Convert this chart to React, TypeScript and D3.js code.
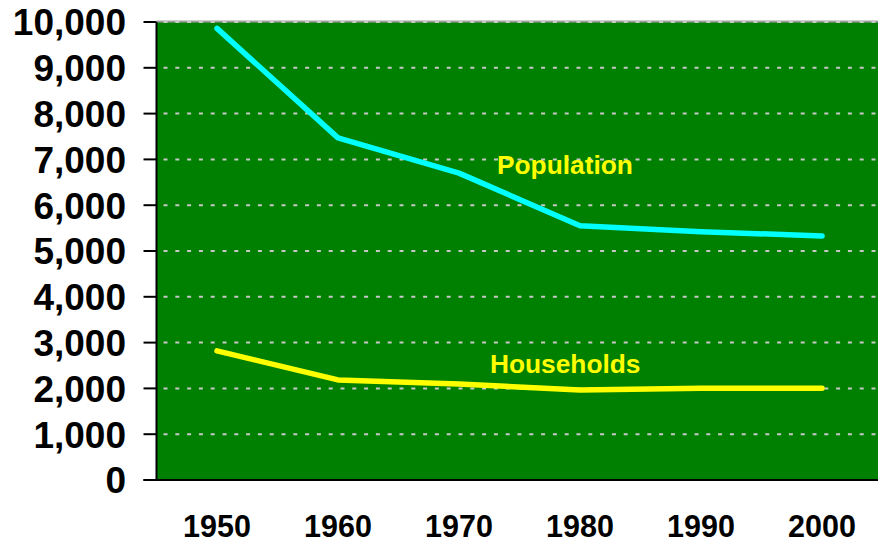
import React from "react";
import * as d3 from "d3";

const years = ["1950", "1960", "1970", "1980", "1990", "2000"];
const population = [9860, 7470, 6700, 5550, 5420, 5330];
const households = [2820, 2185, 2095, 1965, 2005, 2005];
const yTicks = [0, 1000, 2000, 3000, 4000, 5000, 6000, 7000, 8000, 9000, 10000];

const W = 878;
const H = 544;
const left = 156.5;
const top = 22;
const bottom = 480;
const band = 121;

export default function App() {
  const x = d3.scaleBand<string>().domain(years).range([left, left + band * years.length]);
  const y = d3.scaleLinear().domain([0, 10000]).range([bottom, top]);
  const cx = (d: string) => (x(d) as number) + x.bandwidth() / 2;
  const line = d3
    .line<number>()
    .x((_, i) => cx(years[i]))
    .y((v) => y(v));
  const fmt = d3.format(",");
  const font = "'Liberation Sans', Arial, sans-serif";
  return (
    <svg width={W} height={H} style={{ position: "absolute", left: 0, top: 0 }}>
      <rect x={left} y={top} width={W - left} height={bottom - top} fill="#008000" />
      <line x1={left} x2={W} y1={top - 0.5} y2={top - 0.5} stroke="#a0a0a0" strokeWidth={2} />
      {yTicks
        .filter((t) => t > 0)
        .map((t) => (
          <line
            key={t}
            x1={left + 7}
            x2={W}
            y1={y(t)}
            y2={y(t)}
            stroke="#c8c8c8"
            strokeWidth={2}
            strokeDasharray="4 7.8"
          />
        ))}
      <path d={line(population) || ""} fill="none" stroke="#00ffff" strokeWidth={5.5} strokeLinejoin="round" strokeLinecap="round" />
      <path d={line(households) || ""} fill="none" stroke="#ffff00" strokeWidth={5.5} strokeLinejoin="round" strokeLinecap="round" />
      <line x1={left} x2={left} y1={top} y2={bottom + 1} stroke="#000" strokeWidth={2} />
      <line x1={left - 13} x2={W} y1={bottom} y2={bottom} stroke="#000" strokeWidth={2} />
      {yTicks.map((t) => (
        <g key={t}>
          <line x1={left - 13} x2={left} y1={y(t)} y2={y(t)} stroke="#000" strokeWidth={2} />
          <text
            x={126}
            y={y(t)}
            dy="0.36em"
            textAnchor="end"
            fontFamily={font}
            fontWeight="bold"
            fontSize={37}
            fill="#000"
          >
            {fmt(t)}
          </text>
        </g>
      ))}
      {years.map((yr) => (
        <text
          key={yr}
          x={cx(yr)}
          y={537}
          textAnchor="middle"
          fontFamily={font}
          fontWeight="bold"
          fontSize={30.5}
          fill="#000"
        >
          {yr}
        </text>
      ))}
      <text x={497} y={174} fontFamily={font} fontWeight="bold" fontSize={26.3} fill="#ffff00">
        Population
      </text>
      <text x={490} y={373} fontFamily={font} fontWeight="bold" fontSize={26.3} fill="#ffff00">
        Households
      </text>
    </svg>
  );
}
